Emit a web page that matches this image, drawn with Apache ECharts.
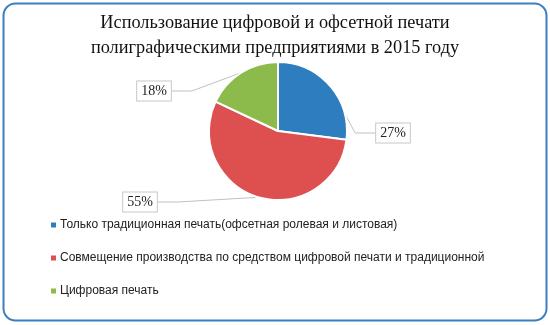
<!DOCTYPE html>
<html><head><meta charset="utf-8">
<script src="https://cdn.jsdelivr.net/npm/echarts@6/dist/echarts.min.js"></script>
<style>html,body{margin:0;padding:0;background:#fff}#c{width:550px;height:325px}</style>
</head><body><div id="c"></div>
<script>
var categories = [
  "Только традиционная печать(офсетная ролевая и листовая)",
  "Совмещение производства по средством цифровой печати и традиционной",
  "Цифровая печать"
];
var values = [27, 55, 18];
var colors = ["#2e7ebf", "#de4f4f", "#8cbb4c"];
var titleText = "Использование цифровой и офсетной печати\nполиграфическими предприятиями в 2015 году";

var labelPos = [[393, 133], [140, 202], [154, 91]];

var chart = echarts.init(document.getElementById('c'), null, {renderer: 'canvas'});
chart.setOption({
  animation: false,
  color: colors,
  graphic: [{
    type: 'rect', shape: {x: 3.5, y: 3.5, width: 543, height: 317, r: 12},
    style: {fill: 'none', stroke: '#3a7fc0', lineWidth: 2}, silent: true, z: -1
  }],
  title: {
    text: titleText, left: 'center', top: 6, padding: [5, 23, 5, 5],
    textStyle: {fontFamily: 'Liberation Serif', fontSize: 18.3, fontWeight: 'normal', color: '#111', lineHeight: 25}
  },
  legend: {
    orient: 'vertical', left: 44, top: 214, itemGap: 21,
    icon: 'rect', itemWidth: 7, itemHeight: 7,
    textStyle: {fontFamily: 'Liberation Sans', fontSize: 12, color: '#222', padding: [0, 0, 0, -2]},
    data: categories
  },
  series: [{
    type: 'pie', center: [278, 131], radius: 69, startAngle: 90, clockwise: true,
    itemStyle: {borderColor: '#fff', borderWidth: 2},
    data: categories.map(function (c, i) { return {name: c, value: values[i]}; }),
    label: {
      show: true, position: 'outside', formatter: '{d}%',
      fontFamily: 'Liberation Serif', fontSize: 14, color: '#222',
      backgroundColor: '#fff', borderColor: '#c8c8c8', borderWidth: 1, padding: [3, 4, 2, 4]
    },
    labelLine: {show: true, length: 15, length2: 20, lineStyle: {color: '#c0c0c0', width: 1}},
    labelLayout: function (p) {
      return {x: labelPos[p.dataIndex][0], y: labelPos[p.dataIndex][1], align: 'center', verticalAlign: 'middle'};
    }
  }]
});
</script></body></html>
